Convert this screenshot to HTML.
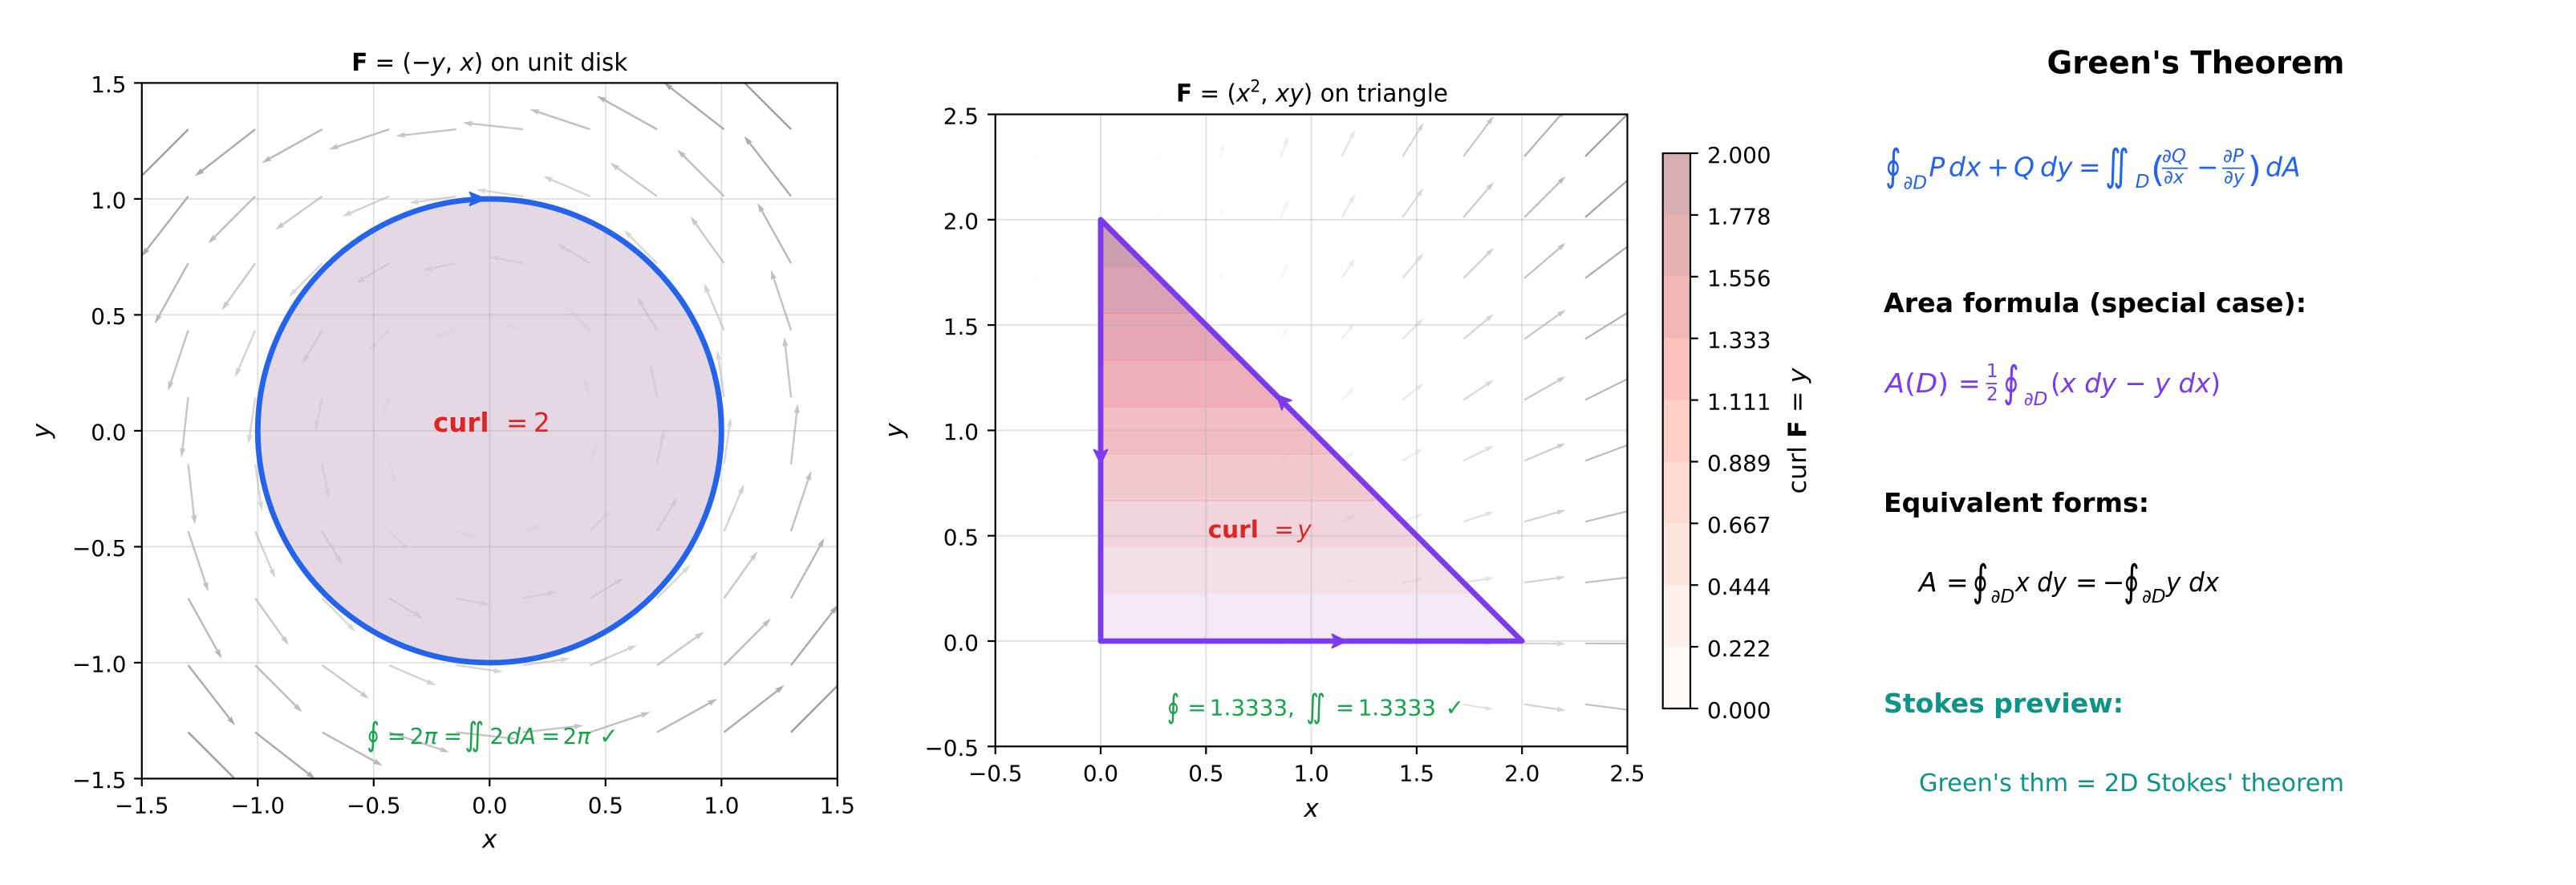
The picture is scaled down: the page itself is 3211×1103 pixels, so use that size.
<!DOCTYPE html>
<html><head><meta charset="utf-8"><style>
html,body{margin:0;padding:0;background:#fff;}
svg{display:block;}
text{font-family:"DejaVu Sans","Liberation Sans",sans-serif;}
.tk{font-size:27.8px;fill:#000;}
.it{font-style:italic;}
</style></head><body>
<svg id="fig" xmlns="http://www.w3.org/2000/svg" width="3211" height="1103" viewBox="0 0 3211 1103">
<defs>
<clipPath id="c1"><rect x="176.8" y="103.4" width="867" height="867"/></clipPath>
<clipPath id="c2"><rect x="1240.7" y="142.5" width="787.8" height="787.8"/></clipPath>
<clipPath id="tri"><polygon points="1372,799 1897.2,799 1372,273.8"/></clipPath>
</defs>
<rect x="0" y="0" width="3211" height="1103" fill="#fff"/>

<!-- LEFT PLOT -->
<g id="q1" clip-path="url(#c1)"></g>
<g clip-path="url(#c1)">
<circle cx="610.3" cy="536.9" r="289" fill="#2563eb" fill-opacity="0.17"/>
<circle cx="610.3" cy="536.9" r="285" fill="rgb(255,181,173)" fill-opacity="0.3"/>
</g>
<g stroke="#b0b0b0" stroke-opacity="0.37" stroke-width="2">
<line x1="321.3" y1="103.4" x2="321.3" y2="970.4"/><line x1="465.8" y1="103.4" x2="465.8" y2="970.4"/>
<line x1="610.3" y1="103.4" x2="610.3" y2="970.4"/><line x1="754.8" y1="103.4" x2="754.8" y2="970.4"/>
<line x1="899.3" y1="103.4" x2="899.3" y2="970.4"/>
<line x1="176.8" y1="247.9" x2="1043.8" y2="247.9"/><line x1="176.8" y1="392.4" x2="1043.8" y2="392.4"/>
<line x1="176.8" y1="536.9" x2="1043.8" y2="536.9"/><line x1="176.8" y1="681.4" x2="1043.8" y2="681.4"/>
<line x1="176.8" y1="825.9" x2="1043.8" y2="825.9"/>
</g>
<circle cx="610.3" cy="536.9" r="289" fill="none" stroke="#2563eb" stroke-width="6.9"/>
<polygon points="605,247.9 585.5,239.8 590,247.9 585.5,256" fill="#2563eb" stroke="#2563eb" stroke-width="2" stroke-linejoin="round"/>
<text x="540" y="538" font-size="32.5" font-weight="bold" fill="#dc2626">curl</text>
<text x="631" y="538" font-size="32.5" fill="#dc2626">=</text>
<text x="665" y="538" font-size="32.5" fill="#dc2626">2</text>
<g fill="#16a34a" font-size="27.8">
<text transform="translate(457.4,929) scale(1,1.35)" font-size="30">∮</text>
<text y="927"><tspan x="482.7">=</tspan><tspan x="510.7">2</tspan><tspan class="it">π</tspan><tspan x="552.8">=</tspan></text>
<text transform="translate(579.5,929) scale(1,1.35)" font-size="30">∬</text>
<text y="927"><tspan x="610.4">2</tspan><tspan x="631.4" class="it">dA</tspan><tspan x="674.9">=</tspan><tspan x="701.5">2</tspan><tspan class="it">π</tspan><tspan x="747.2">✓</tspan></text>
</g>
<rect x="176.8" y="103.4" width="867" height="867" fill="none" stroke="#000" stroke-width="2.2"/>
<g stroke="#000" stroke-width="2.2">
<line x1="176.8" y1="970.4" x2="176.8" y2="980.1"/><line x1="321.3" y1="970.4" x2="321.3" y2="980.1"/>
<line x1="465.8" y1="970.4" x2="465.8" y2="980.1"/><line x1="610.3" y1="970.4" x2="610.3" y2="980.1"/>
<line x1="754.8" y1="970.4" x2="754.8" y2="980.1"/><line x1="899.3" y1="970.4" x2="899.3" y2="980.1"/>
<line x1="1043.8" y1="970.4" x2="1043.8" y2="980.1"/>
<line x1="167.1" y1="103.4" x2="176.8" y2="103.4"/><line x1="167.1" y1="247.9" x2="176.8" y2="247.9"/>
<line x1="167.1" y1="392.4" x2="176.8" y2="392.4"/><line x1="167.1" y1="536.9" x2="176.8" y2="536.9"/>
<line x1="167.1" y1="681.4" x2="176.8" y2="681.4"/><line x1="167.1" y1="825.9" x2="176.8" y2="825.9"/>
<line x1="167.1" y1="970.4" x2="176.8" y2="970.4"/>
</g>
<g text-anchor="middle">
<text class="tk" x="176.8" y="1013.3">−1.5</text><text class="tk" x="321.3" y="1013.3">−1.0</text>
<text class="tk" x="465.8" y="1013.3">−0.5</text><text class="tk" x="610.3" y="1013.3">0.0</text>
<text class="tk" x="754.8" y="1013.3">0.5</text><text class="tk" x="899.3" y="1013.3">1.0</text>
<text class="tk" x="1043.8" y="1013.3">1.5</text>
</g>
<g text-anchor="end">
<text class="tk" x="157.5" y="115.2">1.5</text><text class="tk" x="157.5" y="259.7">1.0</text>
<text class="tk" x="157.5" y="404.2">0.5</text><text class="tk" x="157.5" y="548.7">0.0</text>
<text class="tk" x="157.5" y="693.2">−0.5</text><text class="tk" x="157.5" y="837.7">−1.0</text>
<text class="tk" x="157.5" y="982.2">−1.5</text>
</g>
<text x="610.3" y="1056.6" font-size="31" class="it" text-anchor="middle">x</text>
<text transform="translate(62,537) rotate(-90)" font-size="31" class="it" text-anchor="middle">y</text>
<text x="610.3" y="88" font-size="30.6" text-anchor="middle" textLength="344" lengthAdjust="spacingAndGlyphs"><tspan font-weight="bold">F</tspan> = (−<tspan class="it">y</tspan>, <tspan class="it">x</tspan>) on unit disk</text>

<!-- MIDDLE PLOT -->
<g id="q2" clip-path="url(#c2)"></g>
<polygon points="1372,799 1897.2,799 1372,273.8" fill="#7c3aed" fill-opacity="0.13"/>
<g clip-path="url(#tri)" fill-opacity="0.32">
<rect x="1372" y="740.64" width="526" height="58.36" fill="rgb(255,236,227)"/>
<rect x="1372" y="682.29" width="526" height="58.36" fill="rgb(253,212,194)"/>
<rect x="1372" y="623.93" width="526" height="58.36" fill="rgb(252,178,151)"/>
<rect x="1372" y="565.58" width="526" height="58.36" fill="rgb(252,142,110)"/>
<rect x="1372" y="507.22" width="526" height="58.36" fill="rgb(251,106,74)"/>
<rect x="1372" y="448.87" width="526" height="58.36" fill="rgb(240,64,47)"/>
<rect x="1372" y="390.51" width="526" height="58.36" fill="rgb(211,32,32)"/>
<rect x="1372" y="332.16" width="526" height="58.36" fill="rgb(178,18,24)"/>
<rect x="1372" y="273.8" width="526" height="58.36" fill="rgb(131,7,17)"/>
</g>
<g clip-path="url(#tri)" stroke="rgb(235,110,110)" stroke-opacity="0.3" stroke-width="1">
<line x1="1372" y1="623.93" x2="1900" y2="623.93"/><line x1="1372" y1="565.58" x2="1900" y2="565.58"/>
<line x1="1372" y1="507.22" x2="1900" y2="507.22"/><line x1="1372" y1="448.87" x2="1900" y2="448.87"/>
<line x1="1372" y1="390.51" x2="1900" y2="390.51"/><line x1="1372" y1="332.16" x2="1900" y2="332.16"/>
</g>
<g stroke="#b0b0b0" stroke-opacity="0.37" stroke-width="2">
<line x1="1372" y1="142.5" x2="1372" y2="930.3"/><line x1="1503.3" y1="142.5" x2="1503.3" y2="930.3"/>
<line x1="1634.6" y1="142.5" x2="1634.6" y2="930.3"/><line x1="1765.9" y1="142.5" x2="1765.9" y2="930.3"/>
<line x1="1897.2" y1="142.5" x2="1897.2" y2="930.3"/>
<line x1="1240.7" y1="273.8" x2="2028.5" y2="273.8"/><line x1="1240.7" y1="405.1" x2="2028.5" y2="405.1"/>
<line x1="1240.7" y1="536.4" x2="2028.5" y2="536.4"/><line x1="1240.7" y1="667.7" x2="2028.5" y2="667.7"/>
<line x1="1240.7" y1="799" x2="2028.5" y2="799"/>
</g>
<polygon points="1372,799 1897.2,799 1372,273.8" fill="none" stroke="#7c3aed" stroke-width="6.8" stroke-linejoin="round"/>
<polygon points="1678,799 1660.5,790.6 1665,799 1660.5,807.4" fill="#7c3aed" stroke="#7c3aed" stroke-width="2" stroke-linejoin="round"/>
<polygon points="1372,578 1363.6,560.5 1372,565 1380.4,560.5" fill="#7c3aed" stroke="#7c3aed" stroke-width="2" stroke-linejoin="round"/>
<polygon points="1591.5,492.5 1597.9,510.7 1600.7,501.7 1609.7,498.9" fill="#7c3aed" stroke="#7c3aed" stroke-width="2" stroke-linejoin="round"/>
<text x="1505.7" y="670" font-size="29.5" font-weight="bold" fill="#dc2626">curl</text>
<text x="1588.3" y="670" font-size="29.5" fill="#dc2626">=</text>
<text x="1617.3" y="670" font-size="29.5" class="it" fill="#dc2626">y</text>
<g fill="#16a34a" font-size="27.8">
<text transform="translate(1454.7,894) scale(1,1.35)" font-size="30">∮</text>
<text y="891.7"><tspan x="1480.4">=</tspan><tspan x="1507.8">1.3333,</tspan></text>
<text transform="translate(1628.2,894) scale(1,1.35)" font-size="30">∬</text>
<text y="891.7"><tspan x="1664.9">=</tspan><tspan x="1692.7">1.3333</tspan><tspan x="1801.6">✓</tspan></text>
</g>
<rect x="1240.7" y="142.5" width="787.8" height="787.8" fill="none" stroke="#000" stroke-width="2.2"/>
<g stroke="#000" stroke-width="2.2">
<line x1="1240.7" y1="930.3" x2="1240.7" y2="940"/><line x1="1372" y1="930.3" x2="1372" y2="940"/>
<line x1="1503.3" y1="930.3" x2="1503.3" y2="940"/><line x1="1634.6" y1="930.3" x2="1634.6" y2="940"/>
<line x1="1765.9" y1="930.3" x2="1765.9" y2="940"/><line x1="1897.2" y1="930.3" x2="1897.2" y2="940"/>
<line x1="2028.5" y1="930.3" x2="2028.5" y2="940"/>
<line x1="1231" y1="142.5" x2="1240.7" y2="142.5"/><line x1="1231" y1="273.8" x2="1240.7" y2="273.8"/>
<line x1="1231" y1="405.1" x2="1240.7" y2="405.1"/><line x1="1231" y1="536.4" x2="1240.7" y2="536.4"/>
<line x1="1231" y1="667.7" x2="1240.7" y2="667.7"/><line x1="1231" y1="799" x2="1240.7" y2="799"/>
<line x1="1231" y1="930.3" x2="1240.7" y2="930.3"/>
</g>
<g text-anchor="middle">
<text class="tk" x="1240.7" y="973.6">−0.5</text><text class="tk" x="1372" y="973.6">0.0</text>
<text class="tk" x="1503.3" y="973.6">0.5</text><text class="tk" x="1634.6" y="973.6">1.0</text>
<text class="tk" x="1765.9" y="973.6">1.5</text><text class="tk" x="1897.2" y="973.6">2.0</text>
<text class="tk" x="2028.5" y="973.6">2.5</text>
</g>
<g text-anchor="end">
<text class="tk" x="1220" y="154.3">2.5</text><text class="tk" x="1220" y="285.6">2.0</text>
<text class="tk" x="1220" y="416.9">1.5</text><text class="tk" x="1220" y="548.2">1.0</text>
<text class="tk" x="1220" y="679.5">0.5</text><text class="tk" x="1220" y="810.8">0.0</text>
<text class="tk" x="1220" y="942.1">−0.5</text>
</g>
<text x="1634.6" y="1018" font-size="31" class="it" text-anchor="middle">x</text>
<text transform="translate(1125,536.4) rotate(-90)" font-size="31" class="it" text-anchor="middle">y</text>
<text x="1635.5" y="126.6" font-size="30.6" text-anchor="middle" textLength="339" lengthAdjust="spacingAndGlyphs"><tspan font-weight="bold">F</tspan> = (<tspan class="it">x</tspan><tspan font-size="21" dy="-12">2</tspan><tspan dy="12">, </tspan><tspan class="it">xy</tspan>) on triangle</text>

<!-- COLORBAR -->
<g fill-opacity="0.32">
<rect x="2072.7" y="806.1" width="34.3" height="76.9" fill="rgb(255,236,227)"/>
<rect x="2072.7" y="729.2" width="34.3" height="76.9" fill="rgb(253,212,194)"/>
<rect x="2072.7" y="652.3" width="34.3" height="76.9" fill="rgb(252,178,151)"/>
<rect x="2072.7" y="575.4" width="34.3" height="76.9" fill="rgb(252,142,110)"/>
<rect x="2072.7" y="498.6" width="34.3" height="76.9" fill="rgb(251,106,74)"/>
<rect x="2072.7" y="421.7" width="34.3" height="76.9" fill="rgb(240,64,47)"/>
<rect x="2072.7" y="344.8" width="34.3" height="76.9" fill="rgb(211,32,32)"/>
<rect x="2072.7" y="267.9" width="34.3" height="76.9" fill="rgb(178,18,24)"/>
<rect x="2072.7" y="191" width="34.3" height="76.9" fill="rgb(131,7,17)"/>
</g>
<rect x="2072.7" y="191" width="34.3" height="692" fill="none" stroke="#000" stroke-width="2.2"/>
<g stroke="#000" stroke-width="2.2">
<line x1="2107" y1="883" x2="2116.7" y2="883"/><line x1="2107" y1="806.1" x2="2116.7" y2="806.1"/>
<line x1="2107" y1="729.2" x2="2116.7" y2="729.2"/><line x1="2107" y1="652.3" x2="2116.7" y2="652.3"/>
<line x1="2107" y1="575.4" x2="2116.7" y2="575.4"/><line x1="2107" y1="498.6" x2="2116.7" y2="498.6"/>
<line x1="2107" y1="421.7" x2="2116.7" y2="421.7"/><line x1="2107" y1="344.8" x2="2116.7" y2="344.8"/>
<line x1="2107" y1="267.9" x2="2116.7" y2="267.9"/><line x1="2107" y1="191" x2="2116.7" y2="191"/>
</g>
<text class="tk" x="2128" y="894.8">0.000</text><text class="tk" x="2128" y="817.9">0.222</text>
<text class="tk" x="2128" y="741">0.444</text><text class="tk" x="2128" y="664.1">0.667</text>
<text class="tk" x="2128" y="587.2">0.889</text><text class="tk" x="2128" y="510.4">1.111</text>
<text class="tk" x="2128" y="433.5">1.333</text><text class="tk" x="2128" y="356.6">1.556</text>
<text class="tk" x="2128" y="279.7">1.778</text><text class="tk" x="2128" y="202.8">2.000</text>
<text transform="translate(2251,537) rotate(-90)" font-size="31" text-anchor="middle" textLength="157" lengthAdjust="spacingAndGlyphs">curl <tspan font-weight="bold">F</tspan> = <tspan class="it">y</tspan></text>

<!-- RIGHT TEXT PANEL -->
<text x="2737" y="91.4" font-size="38.9" font-weight="bold" text-anchor="middle" textLength="371" lengthAdjust="spacingAndGlyphs">Green's Theorem</text>

<g fill="#2563eb" font-size="33">
<text transform="translate(2350,224) scale(1,1.4)" font-size="38">∮</text>
<text x="2372.5" y="235.6" font-size="23" class="it">∂D</text>
<text x="2404.4" y="219.5" class="it">P</text>
<text x="2429" y="219.5" class="it">dx</text>
<text x="2476.7" y="219.5">+</text>
<text x="2510" y="219.5" class="it">Q</text>
<text x="2543" y="219.5" class="it">dy</text>
<text x="2591" y="219.5">=</text>
<text transform="translate(2624,224) scale(1,1.4)" font-size="38">∬</text>
<text x="2661.8" y="234" font-size="23" class="it">D</text>
<text x="2681" y="226" font-size="44">(</text>
<text x="2695" y="202" font-size="23" class="it">∂Q</text>
<rect x="2695" y="208.8" width="32" height="1.8"/>
<text x="2697" y="228.6" font-size="23" class="it">∂x</text>
<text x="2738" y="219.5">−</text>
<text x="2771" y="202" font-size="23" class="it">∂P</text>
<rect x="2770" y="208.8" width="28" height="1.8"/>
<text x="2772" y="228.6" font-size="23" class="it">∂y</text>
<text x="2801.7" y="226" font-size="44">)</text>
<text x="2824" y="219.5" class="it">dA</text>
</g>

<text x="2348" y="389" font-size="33.3" font-weight="bold" textLength="527" lengthAdjust="spacingAndGlyphs">Area formula (special case):</text>

<g fill="#7c3aed" font-size="33">
<text x="2350" y="489" textLength="79" lengthAdjust="spacingAndGlyphs"><tspan class="it">A</tspan>(<tspan class="it">D</tspan>)</text>
<text x="2441" y="489">=</text>
<text x="2476" y="470" font-size="23">1</text>
<rect x="2475.5" y="477.2" width="13.5" height="1.8"/>
<text x="2476" y="499" font-size="23">2</text>
<text transform="translate(2497,494) scale(1,1.4)" font-size="38">∮</text>
<text x="2522.7" y="505" font-size="23" class="it">∂D</text>
<text x="2556" y="489" textLength="212" lengthAdjust="spacingAndGlyphs">(<tspan class="it">x dy</tspan> − <tspan class="it">y dx</tspan>)</text>
</g>

<text x="2348" y="638" font-size="33.3" font-weight="bold" textLength="331" lengthAdjust="spacingAndGlyphs">Equivalent forms:</text>

<g fill="#000" font-size="33">
<text x="2392" y="737" class="it">A</text>
<text x="2426" y="737">=</text>
<text transform="translate(2458.6,742) scale(1,1.4)" font-size="38">∮</text>
<text x="2481.6" y="751" font-size="23" class="it">∂D</text>
<text x="2512" y="737" class="it" textLength="64" lengthAdjust="spacingAndGlyphs">x dy</text>
<text x="2587" y="737">=</text>
<text x="2620.7" y="737">−</text>
<text transform="translate(2647,742) scale(1,1.4)" font-size="38">∮</text>
<text x="2670" y="751" font-size="23" class="it">∂D</text>
<text x="2700" y="737" class="it" textLength="66" lengthAdjust="spacingAndGlyphs">y dx</text>
</g>

<text x="2348" y="888" font-size="33.3" font-weight="bold" fill="#0d9488" textLength="299" lengthAdjust="spacingAndGlyphs">Stokes preview:</text>
<text x="2392" y="986" font-size="30.6" fill="#0d9488" textLength="530" lengthAdjust="spacingAndGlyphs">Green's thm = 2D Stokes' theorem</text>
</svg>
<script>
(function(){
var NS='http://www.w3.org/2000/svg';
var G=[255,240,217,189,150,115,82,37,0];
function greys(t){t=Math.max(0,Math.min(1,t));var f=t*8;var i=Math.min(7,Math.floor(f));return G[i]+(G[i+1]-G[i])*(f-i);}
function arrow(g,x0,y0,dx,dy,w,col){
  var L=Math.sqrt(dx*dx+dy*dy); if(L<w*0.5) return;
  var ux=dx/L,uy=dy/L,nx=-uy,ny=ux;
  var k=1,hl=5*w; if(L<hl) k=L/hl;
  var sw=w/2*k,hw=1.5*w*k,hal=4.5*w*k,hll=5*w*k;
  var pts=[[0,-sw],[L-hal,-sw],[L-hll,-hw],[L,0],[L-hll,hw],[L-hal,sw],[0,sw]];
  var s=pts.map(function(p){return (x0+p[0]*ux+p[1]*nx).toFixed(2)+','+(y0+p[0]*uy+p[1]*ny).toFixed(2);}).join(' ');
  var el=document.createElementNS(NS,'polygon');
  el.setAttribute('points',s); el.setAttribute('fill',col);
  g.appendChild(el);
}
function lin(a,b,n){var r=[];for(var i=0;i<n;i++)r.push(a+(b-a)*i/(n-1));return r;}
function draw(id,gx,gy,fn,X,Y,sc,w,al){
  var g=document.getElementById(id),items=[],mn=1e9,mx=-1e9;
  gy.forEach(function(y){gx.forEach(function(x){var uv=fn(x,y);var m=Math.sqrt(uv[0]*uv[0]+uv[1]*uv[1]);items.push([x,y,uv[0],uv[1],m]);if(m<mn)mn=m;if(m>mx)mx=m;});});
  items.forEach(function(a){
    var c=Math.round(255-al*(255-greys((a[4]-mn)/(mx-mn))));
    arrow(g,X(a[0]),Y(a[1]),a[2]*sc,-a[3]*sc,w,'rgb('+c+','+c+','+c+')');
  });
}
var g1=lin(-1.3,1.3,10);
draw('q1',g1,g1,function(x,y){return [-y,x];},function(x){return 176.8+(x+1.5)*289;},function(y){return 103.4+(1.5-y)*289;},57.8,2.4,0.38);
var g2=lin(-0.3,2.3,10);
draw('q2',g2,g2,function(x,y){return [x*x,x*y];},function(x){return 1240.7+(x+0.5)*262.6;},function(y){return 142.5+(2.5-y)*262.6;},12.7,2.2,0.38);
})();
</script>
</body></html>
